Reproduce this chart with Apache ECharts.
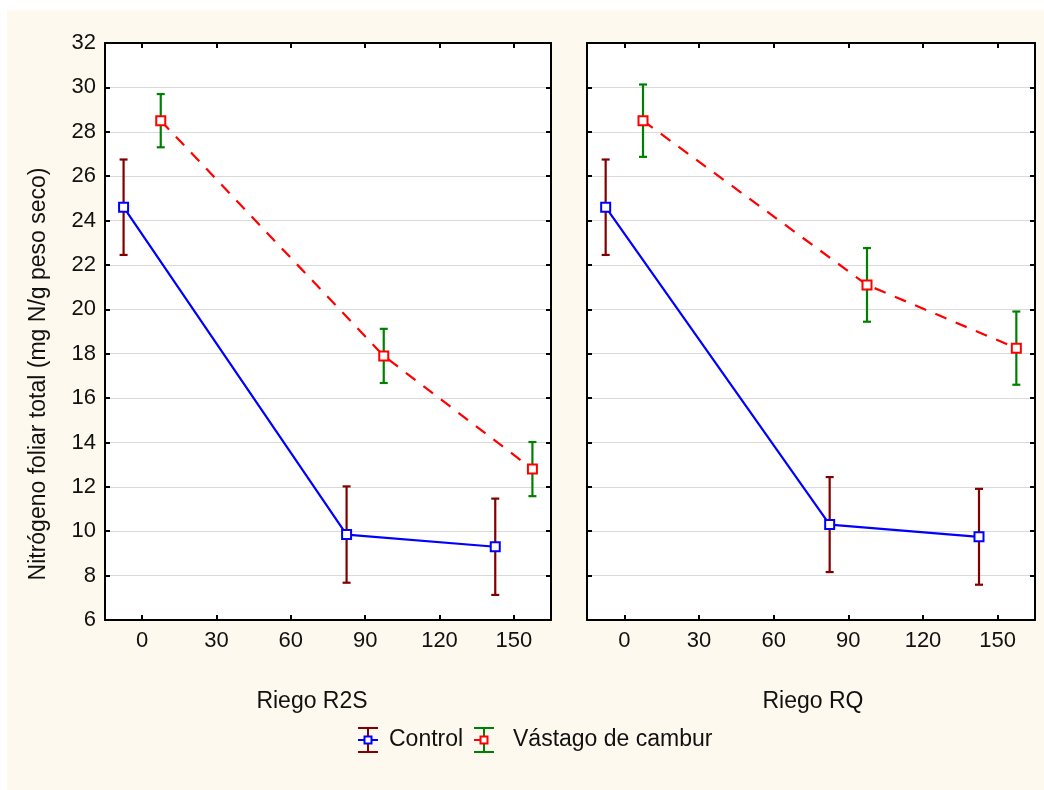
<!DOCTYPE html>
<html>
<head>
<meta charset="utf-8">
<script src="https://cdn.jsdelivr.net/npm/echarts@6/dist/echarts.min.js"></script>
<style>
html,body{margin:0;padding:0;background:#ffffff;}
#bg{position:absolute;left:7px;top:10px;width:1037px;height:780px;background:#fdf9ef;}
#chart{position:absolute;left:0;top:0;width:1044px;height:790px;}
</style>
</head>
<body>
<div id="bg"></div>
<div id="chart"></div>
<script>
// ---- data ----
const days = [0, 90, 150];
const xTicks = [0, 30, 60, 90, 120, 150];
const yTicks = [6, 8, 10, 12, 14, 16, 18, 20, 22, 24, 26, 28, 30, 32];
const panels = ['Riego R2S', 'Riego RQ'];
const seriesNames = ['Control', 'Vástago de cambur'];
const r2sControlMean = [24.6, 9.85, 9.3];
const r2sControlErr = [2.15, 2.17, 2.17];
const r2sVastagoMean = [28.5, 17.9, 12.8];
const r2sVastagoErr = [1.2, 1.22, 1.22];
const rqControlMean = [24.6, 10.3, 9.75];
const rqControlErr = [2.15, 2.14, 2.16];
const rqVastagoMean = [28.5, 21.1, 18.25];
const rqVastagoErr = [1.63, 1.66, 1.65];
const yTitle = 'Nitrógeno foliar total (mg N/g peso seco)';

// ---- style ----
const FONT = "'Liberation Sans', Arial, sans-serif";
const FS = 23;
const FS_TICK = 22;
const jitter = 7.5;
const C_LINE = '#0000ff', C_CERR = '#800000';
const V_LINE = '#ff0000', V_VERR = '#008000';

function pts(mean, off) { return days.map((d, i) => [d + off, mean[i]]); }
function errs(mean, err, off) { return days.map((d, i) => [d + off, mean[i] - err[i], mean[i] + err[i]]); }

function errRender(color) {
  return function (params, api) {
    const lo = api.coord([api.value(0), api.value(1)]);
    const hi = api.coord([api.value(0), api.value(2)]);
    const w = 4;
    const st = { stroke: color, lineWidth: 2.2 };
    return {
      type: 'group', children: [
        { type: 'line', shape: { x1: lo[0], y1: lo[1], x2: hi[0], y2: hi[1] }, style: st },
        { type: 'line', shape: { x1: lo[0] - w, y1: lo[1], x2: lo[0] + w, y2: lo[1] }, style: st },
        { type: 'line', shape: { x1: hi[0] - w, y1: hi[1], x2: hi[0] + w, y2: hi[1] }, style: st }
      ]
    };
  };
}

const grids = [
  { left: 105, top: 43, width: 446, height: 577 },
  { left: 587, top: 43, width: 448, height: 577 }
];

const xAxes = [], yAxes = [], series = [];
const panelData = [
  [r2sControlMean, r2sControlErr, r2sVastagoMean, r2sVastagoErr],
  [rqControlMean, rqControlErr, rqVastagoMean, rqVastagoErr]
];
grids.forEach((g, gi) => {
  ['bottom', 'top'].forEach(pos => {
    xAxes.push({
      gridIndex: gi, type: 'value', position: pos, min: -15, max: 165, splitNumber: 6,
      axisLine: { onZero: false, lineStyle: { color: '#000', width: 2 } },
      axisTick: { inside: true, length: 5, lineStyle: { color: '#000', width: 2 } },
      axisLabel: {
        show: pos === 'bottom', showMinLabel: false, showMaxLabel: false,
        fontFamily: FONT, fontSize: FS_TICK, color: '#111', margin: 10,
        formatter: v => (xTicks.indexOf(v) >= 0 ? String(v) : '')
      },
      splitLine: { show: false }
    });
  });
  ['left', 'right'].forEach(pos => {
    yAxes.push({
      gridIndex: gi, type: 'value', position: pos, min: yTicks[0], max: yTicks[yTicks.length - 1], interval: 2,
      axisLine: { onZero: false, lineStyle: { color: '#000', width: 2 } },
      axisTick: { inside: true, length: 5, lineStyle: { color: '#000', width: 2 } },
      axisLabel: { show: gi === 0 && pos === 'left', fontFamily: FONT, fontSize: FS_TICK, color: '#111', margin: 9 },
      splitLine: { show: pos === 'left', lineStyle: { color: '#d9d9d9', width: 1 } }
    });
  });
  const [cm, ce, vm, ve] = panelData[gi];
  const xi = gi * 2, yi = gi * 2;
  series.push({
    type: 'custom', name: seriesNames[0] + ' err', xAxisIndex: xi, yAxisIndex: yi, z: 2,
    renderItem: errRender(C_CERR), data: errs(cm, ce, -jitter), silent: true
  });
  series.push({
    type: 'custom', name: seriesNames[1] + ' err', xAxisIndex: xi, yAxisIndex: yi, z: 2,
    renderItem: errRender(V_VERR), data: errs(vm, ve, jitter), silent: true
  });
  series.push({
    type: 'line', name: seriesNames[0], xAxisIndex: xi, yAxisIndex: yi, z: 3,
    data: pts(cm, -jitter), symbol: 'emptyRect', symbolSize: 9,
    lineStyle: { color: C_LINE, width: 2.2 },
    itemStyle: { color: C_LINE, borderColor: C_LINE, borderWidth: 2 }, animation: false
  });
  series.push({
    type: 'line', name: seriesNames[1], xAxisIndex: xi, yAxisIndex: yi, z: 3,
    data: pts(vm, jitter), symbol: 'emptyRect', symbolSize: 9,
    lineStyle: { color: V_LINE, width: 2.2, type: [12, 10] },
    itemStyle: { color: V_LINE, borderColor: V_LINE, borderWidth: 2 }, animation: false
  });
});

const txt = { fontFamily: FONT, fontSize: FS, fill: '#111' };
function legendIcon(cx, cy, errColor, lineColor, x1, x2) {
  const st = { stroke: errColor, lineWidth: 2 };
  return [
    { type: 'line', shape: { x1: cx, y1: cy - 12, x2: cx, y2: cy + 12 }, style: st },
    { type: 'line', shape: { x1: cx - 10, y1: cy - 12, x2: cx + 10, y2: cy - 12 }, style: st },
    { type: 'line', shape: { x1: cx - 10, y1: cy + 12, x2: cx + 10, y2: cy + 12 }, style: st },
    { type: 'line', shape: { x1: x1, y1: cy, x2: x2, y2: cy }, style: { stroke: lineColor, lineWidth: 2 } },
    { type: 'rect', shape: { x: cx - 3.5, y: cy - 3.5, width: 7, height: 7 }, style: { fill: '#fff', stroke: lineColor, lineWidth: 2 } }
  ];
}

const option = {
  animation: false,
  backgroundColor: 'transparent',
  grid: grids.map(g => Object.assign({ show: true, backgroundColor: '#ffffff', borderWidth: 0 }, g)),
  xAxis: xAxes,
  yAxis: yAxes,
  series: series,
  graphic: [
    { type: 'text', x: 39, y: 374, rotation: Math.PI / 2,
      style: Object.assign({ text: yTitle, align: 'center', verticalAlign: 'middle' }, txt) },
    { type: 'text', x: 312, y: 702, style: Object.assign({ text: panels[0], align: 'center', verticalAlign: 'middle' }, txt) },
    { type: 'text', x: 813, y: 702, style: Object.assign({ text: panels[1], align: 'center', verticalAlign: 'middle' }, txt) }
  ].concat(legendIcon(368, 740, C_CERR, C_LINE, 358, 378))
   .concat([{ type: 'text', x: 389, y: 740, style: Object.assign({ text: seriesNames[0], align: 'left', verticalAlign: 'middle' }, txt) }])
   .concat(legendIcon(484, 740, V_VERR, V_LINE, 474, 486))
   .concat([{ type: 'text', x: 513, y: 740, style: Object.assign({ text: seriesNames[1], align: 'left', verticalAlign: 'middle' }, txt) }])
};

const chart = echarts.init(document.getElementById('chart'), null, { renderer: 'canvas' });
chart.setOption(option);
</script>
</body>
</html>
